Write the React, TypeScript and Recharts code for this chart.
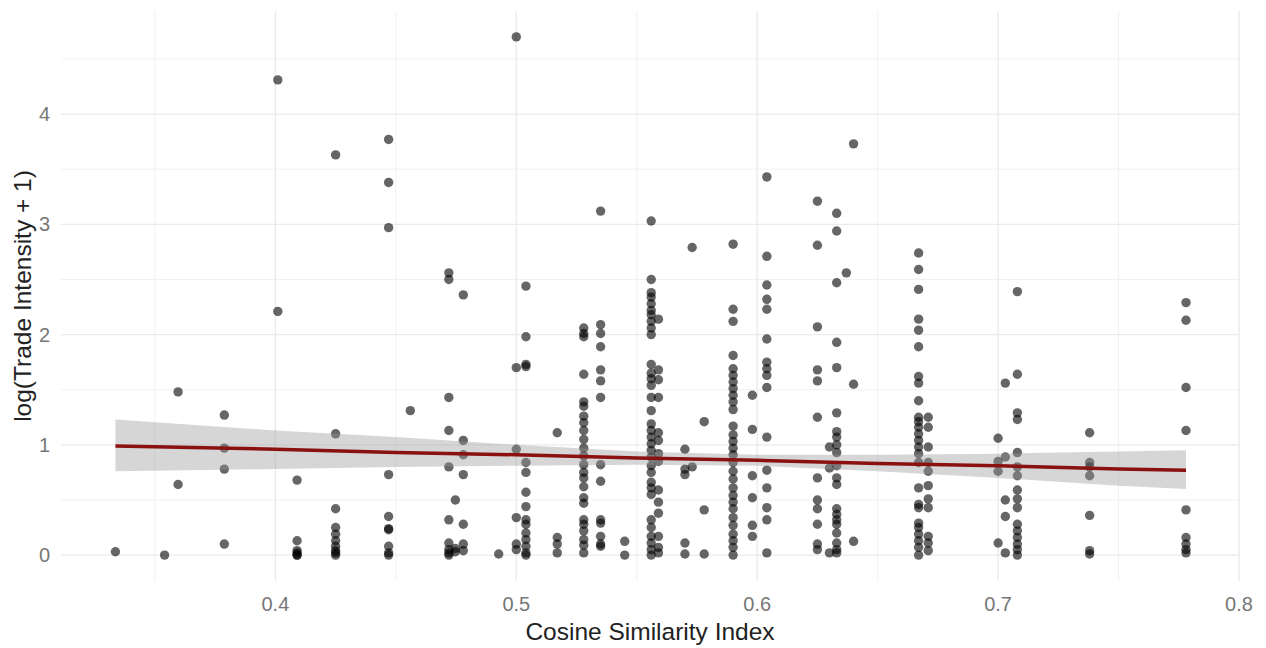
import {
  ComposedChart,
  Scatter,
  Area,
  Line,
  XAxis,
  YAxis,
  ReferenceLine,
} from "recharts";

// x position of each vertical column of points (cosine similarity)
const columnX = [
  0.3336, 0.354, 0.3596, 0.3788, 0.401, 0.409, 0.425, 0.447, 0.456, 0.472,
  0.4747, 0.478, 0.4927, 0.5, 0.504, 0.517, 0.528, 0.535, 0.545, 0.556,
  0.559, 0.57, 0.573, 0.578, 0.59, 0.598, 0.604, 0.625, 0.63, 0.633,
  0.637, 0.64, 0.667, 0.671, 0.7, 0.703, 0.708, 0.738, 0.778,
];

// log(trade intensity + 1) values in each column
const columnY = [
  [0.03],
  [0.0],
  [1.48, 0.64],
  [1.27, 0.97, 0.78, 0.1],
  [4.31, 2.21],
  [0.68, 0.13, 0.04, 0.02, 0.0, 0.0],
  [3.63, 1.1, 0.42, 0.25, 0.19, 0.13, 0.08, 0.04, 0.02, 0.0],
  [3.77, 3.38, 2.97, 0.73, 0.35, 0.24, 0.23, 0.08, 0.02, 0.0],
  [1.31],
  [2.56, 2.5, 1.43, 1.13, 0.8, 0.32, 0.11, 0.05, 0.02, 0.0],
  [0.5, 0.06, 0.03],
  [2.36, 1.04, 0.91, 0.73, 0.28, 0.1, 0.04],
  [0.01],
  [4.7, 1.7, 0.96, 0.34, 0.1, 0.05],
  [2.44, 1.98, 1.73, 1.71, 0.84, 0.75, 0.57, 0.44, 0.32, 0.28, 0.2, 0.14, 0.08, 0.02, 0.0],
  [1.11, 0.16, 0.1, 0.02],
  [2.06, 2.01, 1.98, 1.64, 1.39, 1.35, 1.26, 1.2, 1.13, 1.05, 0.97, 0.9, 0.82, 0.75, 0.7, 0.62, 0.52, 0.47, 0.32, 0.28, 0.22, 0.14, 0.09, 0.02],
  [3.12, 2.09, 2.01, 1.89, 1.68, 1.58, 1.43, 0.82, 0.67, 0.32, 0.29, 0.17, 0.1, 0.08],
  [0.125, 0.0],
  [3.03, 2.5, 2.38, 2.34, 2.28, 2.22, 2.18, 2.12, 2.06, 2.0, 1.73, 1.65, 1.6, 1.54, 1.43, 1.31, 1.19, 1.13, 1.07, 1.01, 0.95, 0.89, 0.81, 0.75, 0.66, 0.61, 0.55, 0.32, 0.25, 0.17, 0.11, 0.05, 0.0],
  [2.14, 1.68, 1.59, 1.43, 1.11, 1.04, 0.92, 0.85, 0.59, 0.48, 0.38, 0.17, 0.07, 0.02],
  [0.96, 0.78, 0.73, 0.11, 0.01],
  [2.79, 0.8],
  [1.21, 0.41, 0.01],
  [2.82, 2.23, 2.12, 1.81, 1.69, 1.63, 1.57, 1.51, 1.45, 1.39, 1.32, 1.17, 1.09, 1.03, 0.97, 0.91, 0.84, 0.76, 0.69, 0.61, 0.54, 0.48, 0.42, 0.34, 0.27, 0.19, 0.13, 0.07, 0.0],
  [1.45, 1.14, 0.72, 0.52, 0.27, 0.17],
  [3.43, 2.71, 2.45, 2.32, 2.23, 1.96, 1.75, 1.69, 1.63, 1.52, 1.07, 0.77, 0.61, 0.43, 0.32, 0.02],
  [3.21, 2.81, 2.07, 1.68, 1.58, 1.25, 0.7, 0.5, 0.42, 0.28, 0.1, 0.05],
  [0.98, 0.79, 0.02],
  [3.1, 2.94, 2.47, 1.93, 1.7, 1.29, 1.12, 1.07, 1.0, 0.93, 0.81, 0.7, 0.64, 0.42, 0.37, 0.32, 0.28, 0.2, 0.11, 0.05, 0.02],
  [2.56],
  [3.73, 1.55, 0.125],
  [2.74, 2.59, 2.41, 2.14, 2.04, 1.89, 1.62, 1.56, 1.4, 1.25, 1.21, 1.16, 1.1, 1.04, 0.98, 0.92, 0.84, 0.61, 0.46, 0.43, 0.29, 0.25, 0.19, 0.13, 0.07, 0.0],
  [1.25, 1.16, 0.98, 0.84, 0.76, 0.63, 0.51, 0.43, 0.17, 0.11, 0.04],
  [1.06, 0.85, 0.76, 0.11],
  [1.56, 0.89, 0.5, 0.35, 0.02],
  [2.39, 1.64, 1.29, 1.23, 0.93, 0.8, 0.72, 0.59, 0.51, 0.43, 0.28, 0.22, 0.16, 0.1, 0.05, 0.0],
  [1.11, 0.84, 0.8, 0.72, 0.36, 0.04, 0.01],
  [2.29, 2.13, 1.52, 1.13, 0.41, 0.16, 0.1, 0.05, 0.02],
];

// fitted line and 95% band
const fitX = [0.3336, 0.4, 0.45, 0.5, 0.55, 0.6, 0.65, 0.7, 0.75, 0.778];
const fitY = [0.99, 0.96, 0.93, 0.91, 0.88, 0.86, 0.83, 0.81, 0.78, 0.77];
const fitLow = [0.76, 0.78, 0.8, 0.81, 0.82, 0.81, 0.76, 0.7, 0.63, 0.6];
const fitHigh = [1.23, 1.13, 1.07, 1.0, 0.94, 0.91, 0.91, 0.92, 0.94, 0.95];

const xTicks = [0.4, 0.5, 0.6, 0.7, 0.8];
const xMinor = [0.35, 0.45, 0.55, 0.65, 0.75];
const yTicks = [0, 1, 2, 3, 4];
const yMinor = [0.5, 1.5, 2.5, 3.5, 4.5];

const X_DOMAIN = [0.311, 0.8];
const Y_DOMAIN = [-0.235, 4.935];

const points = columnX.flatMap((x, i) => columnY[i].map((y) => ({ x, y })));
const fitData = fitX.map((x, i) => ({
  x,
  fit: fitY[i],
  band: [fitLow[i], fitHigh[i]],
}));

const FONT = "'Liberation Sans', Arial, sans-serif";
const GRID = "#ebebeb";

const Dot = (props: any) => (
  <circle cx={props.cx} cy={props.cy} r={4.7} fill="#000" fillOpacity={0.6} />
);

export default function App() {
  return (
    <div style={{ position: "absolute", left: 0, top: 0, background: "#fff" }}>
      <ComposedChart
        width={1266}
        height={648}
        data={fitData}
        margin={{ top: 11, right: 27, bottom: 0, left: 0 }}
      >
        {xMinor.map((v) => (
          <ReferenceLine key={"xm" + v} x={v} stroke="#f1f1f1" strokeWidth={1} zIndex={-100} />
        ))}
        {yMinor.map((v) => (
          <ReferenceLine key={"ym" + v} y={v} stroke="#f1f1f1" strokeWidth={1} zIndex={-100} />
        ))}
        {xTicks.map((v) => (
          <ReferenceLine key={"x" + v} x={v} stroke={GRID} strokeWidth={1.4} zIndex={-100} />
        ))}
        {yTicks.map((v) => (
          <ReferenceLine key={"y" + v} y={v} stroke={GRID} strokeWidth={1.4} zIndex={-100} />
        ))}
        <XAxis
          type="number"
          dataKey="x"
          domain={X_DOMAIN}
          ticks={xTicks}
          allowDataOverflow
          axisLine={false}
          tickLine={false}
          tickSize={0}
          tickMargin={16}
          height={67}
          tick={{ fill: "#777", fontSize: 20, fontFamily: FONT }}
          label={{
            content: ({ viewBox }: any) => (
              <text
                x={viewBox.x + viewBox.width / 2}
                y={viewBox.y + 59}
                textAnchor="middle"
                fill="#222"
                fontSize={24.5}
                fontFamily={FONT}
              >
                Cosine Similarity Index
              </text>
            ),
          }}
        />
        <YAxis
          type="number"
          dataKey="y"
          domain={Y_DOMAIN}
          ticks={yTicks}
          allowDataOverflow
          axisLine={false}
          tickLine={false}
          tickSize={0}
          tickMargin={11}
          width={61}
          tick={{ fill: "#777", fontSize: 20, fontFamily: FONT }}
          label={{
            content: ({ viewBox }: any) => {
              const cx = 31;
              const cy = viewBox.y + viewBox.height / 2;
              return (
                <text
                  x={cx}
                  y={cy}
                  transform={`rotate(-90, ${cx}, ${cy})`}
                  textAnchor="middle"
                  fill="#222"
                  fontSize={24.5}
                  fontFamily={FONT}
                >
                  log(Trade Intensity + 1)
                </text>
              );
            },
          }}
        />
        <Scatter
          data={points}
          shape={Dot}
          isAnimationActive={false}
          zIndex={100}
        />
        <Area
          dataKey="band"
          type="linear"
          stroke="none"
          fill="#999"
          fillOpacity={0.4}
          isAnimationActive={false}
          zIndex={300}
        />
        <Line
          dataKey="fit"
          type="linear"
          stroke="#8b1010"
          strokeWidth={3.5}
          dot={false}
          isAnimationActive={false}
          zIndex={400}
        />
      </ComposedChart>
    </div>
  );
}
